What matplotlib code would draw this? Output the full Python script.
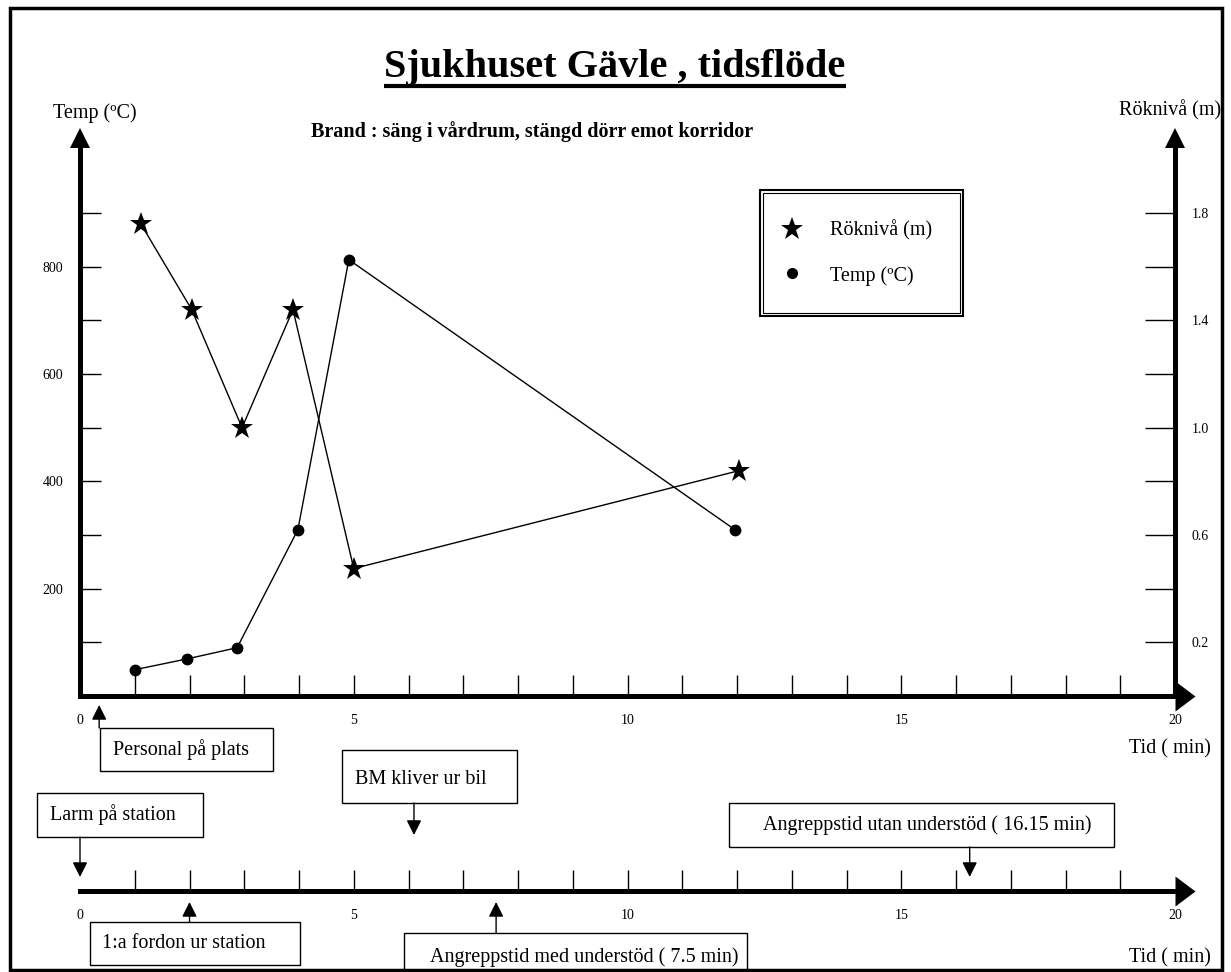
import matplotlib
matplotlib.use('Agg')
import matplotlib.pyplot as plt
import matplotlib.transforms as mtransforms
from matplotlib.lines import Line2D
from matplotlib.patches import Rectangle
from matplotlib.ticker import FixedLocator, FixedFormatter, NullFormatter

plt.rcParams['font.family'] = ['Liberation Serif', 'DejaVu Serif']

# ---- data ----
temp_min = [1.0, 1.95, 2.87, 3.98, 4.91, 11.96]      # time (min) of temperature readings
temp_c = [49, 69, 90, 310, 813, 310]                 # temperature (ºC)
smoke_min = [1.11, 2.04, 2.96, 3.89, 5.0, 12.04]     # time (min) of smoke level readings
smoke_m = [1.76, 1.44, 1.0, 1.44, 0.475, 0.84]       # smoke level (m)

temp_ticks = [100, 200, 300, 400, 500, 600, 700, 800, 900]
temp_labels = [200, 400, 600, 800]
smoke_ticks = [0.2, 0.4, 0.6, 0.8, 1.0, 1.2, 1.4, 1.6, 1.8]
smoke_labels = [0.2, 0.6, 1.0, 1.4, 1.8]
time_ticks = list(range(1, 20))
time_labels = [0, 5, 10, 15, 20]

# timeline events (label, minute)
event_labels = ["Personal på plats", "Larm på station", "BM kliver ur bil",
                "Angreppstid utan understöd ( 16.15 min)", "1:a fordon ur station",
                "Angreppstid med understöd ( 7.5 min)"]
event_times = [0.35, 0.0, 6.1, 16.25, 2.0, 7.6]

# ---- layout (pixels of the 1231x972 picture) ----
W, H = 1231, 972
X0, X20, XTIP = 80, 1175, 1195
Y0, YTIP, Y900 = 696, 128, 213
LY = 891
px_min = (X20 - X0) / 20.0
px_deg = (Y0 - Y900) / 900.0
xmax = (XTIP - X0) / px_min
tmax = (Y0 - YTIP) / px_deg
t_base = (Y0 - YTIP - 20) / px_deg

# box: x0, y0, x1, y1, text x, text y, arrow start y, arrow tip y, timeline
boxes = [
    (100, 728, 273, 771, 113, 750, 728, 705, 'upper'),
    (37, 793, 203, 837, 50, 815, 837, 877, 'lower'),
    (342, 750, 517, 803, 355, 779, 803, 835, 'lower'),
    (729, 803, 1114, 847, 763, 825, 847, 877, 'lower'),
    (90, 922, 300, 965, 102, 943, 922, 902, 'lower'),
    (404, 933, 747, 972, 430, 957, 933, 902, 'lower'),
]

fig = plt.figure(figsize=(W / 100, H / 100), dpi=100)

ax = fig.add_axes([X0 / W, 1 - Y0 / H, (XTIP - X0) / W, (Y0 - YTIP) / H])
axb = fig.add_axes([X0 / W, 1 - LY / H, (XTIP - X0) / W, 22 / H])
ov = fig.add_axes([0, 0, 1, 1])
ov.set_xlim(0, W)
ov.set_ylim(H, 0)
ov.axis('off')

ax2 = ax.twinx()
ax.set_xlim(0, xmax)
ax.set_ylim(0, tmax)
ax2.set_ylim(0, tmax * 1.8 / 900)
for a in (ax, ax2, axb):
    a.patch.set_visible(False)

# series
ax.plot(temp_min, temp_c, color='black', lw=1, marker='o', ms=8.5, mew=0)
ax2.plot(smoke_min, smoke_m, color='black', lw=1, marker='*', ms=17, mew=0)

# axes lines
ax.spines['top'].set_visible(False)
ax.spines['right'].set_visible(False)
ax.spines['left'].set_linewidth(3.6)
ax.spines['left'].set_bounds(0, t_base)
ax.spines['bottom'].set_linewidth(3.6)
ax.spines['bottom'].set_bounds(0, 20)
for s in ['top', 'left', 'bottom']:
    ax2.spines[s].set_visible(False)
ax2.spines['right'].set_position(('data', 20))
ax2.spines['right'].set_linewidth(3.6)
ax2.spines['right'].set_bounds(0, t_base * 1.8 / 900)

axb.set_xlim(0, xmax)
axb.set_ylim(0, 1)
for s in ['top', 'left', 'right']:
    axb.spines[s].set_visible(False)
axb.spines['bottom'].set_linewidth(3.6)
axb.spines['bottom'].set_bounds(0, 20)
axb.set_yticks([])

# ticks
for a in (ax, axb):
    a.xaxis.remove_overlapping_locs = False
    a.xaxis.set_major_locator(FixedLocator(time_labels))
    a.xaxis.set_minor_locator(FixedLocator(time_ticks))
    a.xaxis.set_minor_formatter(NullFormatter())
    a.tick_params(axis='x', which='major', length=0, pad=13, labelsize=10, direction='in')
    a.tick_params(axis='x', which='minor', length=15, width=1, direction='in')

ax.yaxis.remove_overlapping_locs = False
ax.yaxis.set_major_locator(FixedLocator(temp_labels))
ax.yaxis.set_minor_locator(FixedLocator(temp_ticks))
ax.yaxis.set_minor_formatter(NullFormatter())
ax.tick_params(axis='y', which='major', length=0, pad=12, labelsize=10, direction='in')
ax.tick_params(axis='y', which='minor', length=15, width=1, direction='in')

ax2.yaxis.remove_overlapping_locs = False
ax2.yaxis.set_major_locator(FixedLocator(smoke_labels))
ax2.yaxis.set_major_formatter(FixedFormatter([f"{v:.1f}" for v in smoke_labels]))
ax2.yaxis.set_minor_locator(FixedLocator(smoke_ticks))
ax2.yaxis.set_minor_formatter(NullFormatter())
ax2.tick_params(axis='y', which='major', length=0, pad=12, labelsize=10, direction='in')
ax2.tick_params(axis='y', which='minor', length=21.6, width=1, direction='in')

# arrow heads on the axes
tri_right = [(-2 / 3, -1), (2 / 3, 0), (-2 / 3, 1)]
ax.plot([0], [(t_base + tmax) / 2], marker='^', ms=14.4, mew=0, color='black', clip_on=False)
ax.plot([20], [(t_base + tmax) / 2], marker='^', ms=14.4, mew=0, color='black', clip_on=False)
ax.plot([(20 + xmax) / 2], [0], marker=tri_right, ms=21.6, mew=0, color='black', clip_on=False)
axb.plot([(20 + xmax) / 2], [0], marker=tri_right, ms=21.6, mew=0, color='black', clip_on=False)

# legend
handles = [Line2D([], [], ls='none', marker='*', ms=17, mew=0, color='black', label='Röknivå (m)'),
           Line2D([], [], ls='none', marker='o', ms=8, mew=0, color='black', label='Temp (ºC)')]
leg = ax.legend(handles=handles, loc='upper left', bbox_to_anchor=(763 / W, 1 - 193 / H),
                bbox_transform=fig.transFigure, borderaxespad=0, fancybox=False,
                edgecolor='black', framealpha=1, fontsize=14.5, borderpad=1.35,
                labelspacing=1.25, handlelength=0.2, handletextpad=1.8)
leg.get_frame().set_linewidth(0.8)

# titles and labels
title = ov.text(615, 77, "Sjukhuset Gävle , tidsflöde", fontsize=29, fontweight='bold',
                ha='center', va='baseline')
ov.text(532, 137, "Brand : säng i vårdrum, stängd dörr emot korridor", fontsize=14.5,
        fontweight='bold', ha='center', va='baseline')
ov.text(95, 113, "Temp (ºC)", fontsize=14.5, ha='center', va='center')
ov.text(1170, 110, "Röknivå (m)", fontsize=14.5, ha='center', va='center')
ov.text(1170, 749, "Tid ( min)", fontsize=14.5, ha='center', va='center')
ov.text(1170, 958, "Tid ( min)", fontsize=14.5, ha='center', va='center')

# event boxes with arrows
for label, t, b in zip(event_labels, event_times, boxes):
    x0, y0, x1, y1, tx, ty, ay0, ay1, line = b
    ov.add_patch(Rectangle((x0, y0), x1 - x0, y1 - y0, fill=True, facecolor='white',
                           edgecolor='black', lw=1))
    ov.text(tx, ty, label, fontsize=14.5, ha='left', va='center')
    tl = ax if line == 'upper' else axb
    trans = mtransforms.blended_transform_factory(tl.transData, ov.transData)
    ov.annotate('', xy=(t, ay1), xycoords=trans, xytext=(t, ay0), textcoords=trans,
                arrowprops=dict(arrowstyle='-|>,head_length=0.9,head_width=0.45',
                                mutation_scale=10, lw=1, color='black',
                                shrinkA=0, shrinkB=0))

# outer frame
ov.add_patch(Rectangle((9.5, 8), 1212, 962, fill=False, lw=2.5, edgecolor='black'))

# underline of the title and double frame of the legend
fig.canvas.draw()
bb = title.get_window_extent()
ov.plot([bb.x0, bb.x1], [86.5, 86.5], color='black', lw=3, solid_capstyle='butt')
lb = leg.get_frame().get_window_extent()
fig.add_artist(Rectangle((lb.x0 - 3.5, lb.y0 - 3.5), lb.width + 7, lb.height + 7,
                         transform=mtransforms.IdentityTransform(), fill=False,
                         lw=1.5, edgecolor='black'))

fig.savefig('out.png', dpi=100)
